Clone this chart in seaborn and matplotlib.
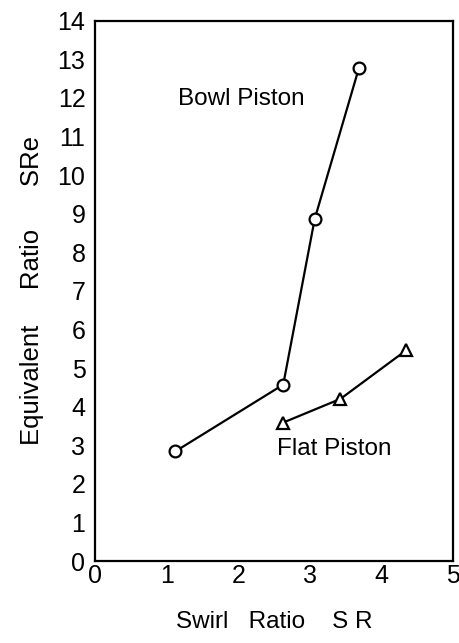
import matplotlib
matplotlib.use("Agg")
import matplotlib.pyplot as plt
import seaborn as sns
import pandas as pd

bowl_sr = [1.12, 2.63, 3.07, 3.69]
bowl_sre = [2.84, 4.57, 8.86, 12.78]
flat_sr = [2.62, 3.43, 4.35]
flat_sre = [3.58, 4.20, 5.46]
x_ticks = [0, 1, 2, 3, 4, 5]
y_ticks = list(range(0, 15))

sns.set_theme(style="white")
plt.rcParams['font.family'] = ['Liberation Sans', 'DejaVu Sans']
plt.rcParams['text.color'] = 'black'
plt.rcParams['axes.labelcolor'] = 'black'

fig = plt.figure(figsize=(4.6, 6.43), dpi=100)
ax = fig.add_axes([0.207, 0.1275, 0.777, 0.8403])

df_b = pd.DataFrame({"SR": bowl_sr, "SRe": bowl_sre})
df_f = pd.DataFrame({"SR": flat_sr, "SRe": flat_sre})
sns.lineplot(data=df_b, x="SR", y="SRe", ax=ax, color="black", lw=1.6, sort=False,
             marker="o", markersize=8.5, markerfacecolor="white", markeredgecolor="black",
             markeredgewidth=1.6)
sns.lineplot(data=df_f, x="SR", y="SRe", ax=ax, color="black", lw=1.6, sort=False,
             marker="^", markersize=8.5, markerfacecolor="white", markeredgecolor="black",
             markeredgewidth=1.6)

ax.set_xlim(0, 5)
ax.set_ylim(0, 14)
ax.set_xticks(x_ticks)
ax.set_yticks(y_ticks)
ax.tick_params(direction="in", length=6, width=1.4, labelsize=18, colors="black")
ax.tick_params(axis="y", pad=7)
ax.tick_params(axis="x", pad=2)
for s in ax.spines.values():
    s.set_color("black")
    s.set_linewidth(1.6)

ax.text(1.16, 11.96, "Bowl Piston", fontsize=17.5, va="center", ha="left")
ax.text(2.54, 2.9, "Flat Piston", fontsize=17.5, va="center", ha="left")

ax.set_xlabel("Swirl   Ratio    S R", fontsize=17.5, labelpad=17)
ax.set_ylabel("Equivalent     Ratio      SRe", fontsize=18.5, labelpad=10)

fig.savefig("out.png", dpi=100)
